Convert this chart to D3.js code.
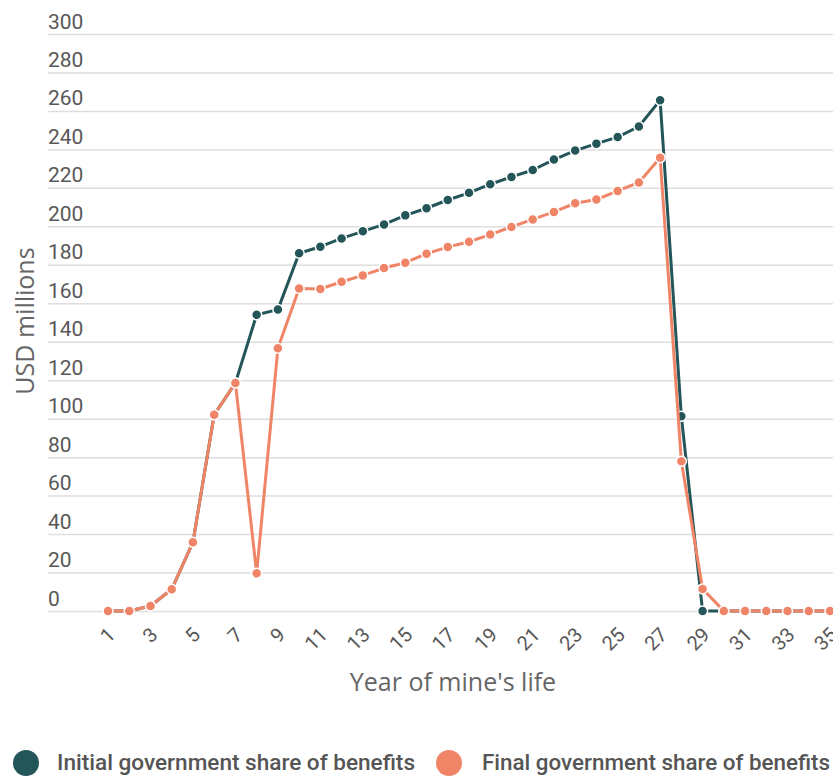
<!DOCTYPE html>
<html>
<head>
<meta charset="utf-8">
<script src="https://cdn.jsdelivr.net/npm/d3@7/dist/d3.min.js"></script>
<style>
  html, body { margin: 0; padding: 0; background: #ffffff; }
  svg { display: block; }
</style>
</head>
<body>
<svg id="chart" width="833" height="779"></svg>
<script>
// ---- Data ----
const years = d3.range(1, 36);
const initialShare = [0, 0, 2.6, 11.3, 35.8, 102, 118.6, 154, 156.7, 186, 189.4, 193.7, 197.4, 201, 205.7, 209.4, 213.7, 217.4, 221.9, 225.7, 229.3, 234.7, 239.4, 243, 246.4, 251.9, 265.6, 101.2, 0, 0, 0, 0, 0, 0, 0];
const finalShare   = [0, 0, 2.6, 11.3, 35.8, 102, 118.6, 19.6, 136.6, 167.7, 167.4, 171.2, 174.5, 178.3, 181.1, 185.8, 189.2, 192, 195.7, 199.7, 203.6, 207.5, 212, 213.9, 218.4, 222.8, 235.7, 77.8, 11.5, 0, 0, 0, 0, 0, 0];
const yTicks = d3.range(0, 301, 20);
const xTickYears = years.filter(d => d % 2 === 1);
const seriesNames = ["Initial government share of benefits", "Final government share of benefits"];
const seriesColors = ["#245659", "#ef8467"];

// ---- Chart ----
const svg = d3.select("#chart");
const x = d3.scalePoint().domain(years).range([108, 830]);
const y = d3.scaleLinear().domain([0, 300]).range([611, 34]);

// gridlines + y labels
const yAxis = d3.axisRight(y).tickValues(yTicks).tickSize(785).tickFormat(d3.format("d"));
const gy = svg.append("g").attr("transform", "translate(48,0)").call(yAxis);
gy.select(".domain").remove();
gy.selectAll(".tick line").attr("stroke", "#dedede").attr("stroke-width", 1.5);
gy.selectAll(".tick text")
  .attr("x", 0).attr("dy", -6)
  .attr("text-anchor", "start")
  .style("font-family", "Roboto")
  .style("font-size", "21px")
  .attr("fill", "#585858");

// x axis labels
const xAxis = d3.axisBottom(x).tickValues(xTickYears).tickSize(0);
const gx = svg.append("g").attr("transform", "translate(0,611)").call(xAxis);
gx.select(".domain").remove();
gx.selectAll(".tick text")
  .attr("text-anchor", "end")
  .attr("dy", "0.35em")
  .attr("y", 0)
  .attr("transform", "translate(3,20) rotate(-45)")
  .style("font-family", "Roboto")
  .style("font-size", "20px")
  .attr("fill", "#585858");

// axis titles
svg.append("text")
  .attr("x", 453).attr("y", 691)
  .attr("text-anchor", "middle")
  .style("font-family", "Open Sans")
  .style("font-size", "25px")
  .attr("fill", "#666")
  .text("Year of mine's life");

svg.append("text")
  .attr("transform", "translate(34,321) rotate(-90)")
  .attr("text-anchor", "middle")
  .style("font-family", "Open Sans")
  .style("font-size", "25px")
  .attr("fill", "#666")
  .text("USD millions");

// series
const line = d3.line().x((d, i) => x(years[i])).y(d => y(d));
[initialShare, finalShare].forEach((vals, si) => {
  const g = svg.append("g");
  g.append("path")
    .datum(vals)
    .attr("d", line)
    .attr("fill", "none")
    .attr("stroke", seriesColors[si])
    .attr("stroke-width", 3)
    .attr("stroke-linejoin", "round");
  g.selectAll("circle")
    .data(vals)
    .join("circle")
    .attr("cx", (d, i) => x(years[i]))
    .attr("cy", d => y(d))
    .attr("r", 5)
    .attr("fill", seriesColors[si])
    .attr("stroke", "#fff")
    .attr("stroke-width", 1.5);
});

// legend
const legendItems = [
  { cx: 26, tx: 57, tl: 358 },
  { cx: 449, tx: 482, tl: 348 }
];
legendItems.forEach((it, i) => {
  svg.append("circle")
    .attr("cx", it.cx).attr("cy", 763).attr("r", 13)
    .attr("fill", seriesColors[i]);
  svg.append("text")
    .attr("x", it.tx).attr("y", 770)
    .attr("textLength", it.tl)
    .attr("lengthAdjust", "spacingAndGlyphs")
    .style("font-family", "Roboto")
    .style("font-size", "22px")
    .style("font-weight", "500")
    .attr("fill", "#555")
    .text(seriesNames[i]);
});
</script>
</body>
</html>
